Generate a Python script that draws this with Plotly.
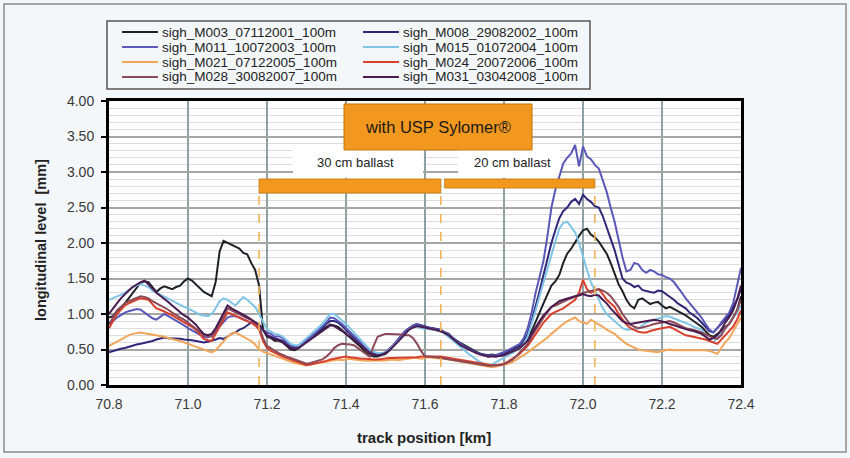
import plotly.graph_objects as go

# ---------------------------------------------------------------- data
km = [70.80, 70.81, 70.82, 70.83, 70.84, 70.85, 70.86, 70.87, 70.88, 70.89,
      70.90, 70.91, 70.92, 70.93, 70.94, 70.95, 70.96, 70.97, 70.98, 70.99,
      71.00, 71.01, 71.02, 71.03, 71.04, 71.05, 71.06, 71.07, 71.08, 71.09,
      71.10, 71.11, 71.12, 71.13, 71.14, 71.15, 71.16, 71.17, 71.18, 71.19,
      71.20, 71.21, 71.22, 71.23, 71.24, 71.25, 71.26, 71.27, 71.28, 71.29,
      71.30, 71.31, 71.32, 71.33, 71.34, 71.35, 71.36, 71.37, 71.38, 71.39,
      71.40, 71.41, 71.42, 71.43, 71.44, 71.45, 71.46, 71.47, 71.48, 71.49,
      71.50, 71.51, 71.52, 71.53, 71.54, 71.55, 71.56, 71.57, 71.58, 71.59,
      71.60, 71.61, 71.62, 71.63, 71.64, 71.65, 71.66, 71.67, 71.68, 71.69,
      71.70, 71.71, 71.72, 71.73, 71.74, 71.75, 71.76, 71.77, 71.78, 71.79,
      71.80, 71.81, 71.82, 71.83, 71.84, 71.85, 71.86, 71.87, 71.88, 71.89,
      71.90, 71.91, 71.92, 71.93, 71.94, 71.95, 71.96, 71.97, 71.98, 71.99,
      72.00, 72.01, 72.02, 72.03, 72.04, 72.05, 72.06, 72.07, 72.08, 72.09,
      72.10, 72.11, 72.12, 72.13, 72.14, 72.15, 72.16, 72.17, 72.18, 72.19,
      72.20, 72.21, 72.22, 72.23, 72.24, 72.25, 72.26, 72.27, 72.28, 72.29,
      72.30, 72.31, 72.32, 72.33, 72.34, 72.35, 72.36, 72.37, 72.38, 72.39,
      72.40]

m003 = [0.95, 0.97, 1.04, 1.08, 1.15, 1.22, 1.30, 1.36, 1.44, 1.46,
        1.45, 1.38, 1.31, 1.36, 1.39, 1.37, 1.35, 1.38, 1.40, 1.46,
        1.50, 1.47, 1.42, 1.36, 1.31, 1.28, 1.25, 1.45, 1.88, 2.03,
        2.00, 1.97, 1.95, 1.92, 1.86, 1.84, 1.72, 1.62, 1.40, 0.78,
        0.68, 0.66, 0.62, 0.63, 0.60, 0.55, 0.50, 0.49, 0.52, 0.57,
        0.62, 0.66, 0.70, 0.75, 0.78, 0.82, 0.85, 0.84, 0.82, 0.77,
        0.72, 0.68, 0.62, 0.58, 0.52, 0.46, 0.42, 0.40, 0.40, 0.42,
        0.44, 0.49, 0.55, 0.62, 0.68, 0.75, 0.80, 0.83, 0.84, 0.81,
        0.82, 0.79, 0.80, 0.77, 0.76, 0.74, 0.72, 0.66, 0.62, 0.59,
        0.56, 0.52, 0.50, 0.46, 0.44, 0.43, 0.42, 0.43, 0.42, 0.44,
        0.45, 0.47, 0.50, 0.52, 0.55, 0.58, 0.65, 0.76, 0.90, 1.02,
        1.15, 1.28, 1.40, 1.46, 1.55, 1.72, 1.85, 1.92, 2.02, 2.10,
        2.18, 2.20, 2.12, 2.08, 2.02, 1.94, 1.85, 1.72, 1.58, 1.42,
        1.32, 1.20, 1.12, 1.08, 1.20, 1.22, 1.18, 1.14, 1.16, 1.17,
        1.12, 1.08, 1.10, 1.07, 1.05, 1.01, 0.98, 0.94, 0.90, 0.86,
        0.82, 0.76, 0.70, 0.68, 0.72, 0.76, 0.82, 0.86, 0.95, 1.05,
        1.25]

m008 = [0.46, 0.48, 0.50, 0.51, 0.52, 0.54, 0.55, 0.57, 0.58, 0.59,
        0.60, 0.62, 0.64, 0.66, 0.67, 0.66, 0.66, 0.65, 0.65, 0.64,
        0.64, 0.63, 0.62, 0.61, 0.60, 0.61, 0.62, 0.64, 0.66, 0.65,
        0.68, 0.72, 0.74, 0.78, 0.80, 0.84, 0.88, 0.86, 0.85, 0.78,
        0.70, 0.68, 0.66, 0.63, 0.62, 0.58, 0.54, 0.53, 0.55, 0.60,
        0.64, 0.68, 0.72, 0.76, 0.80, 0.86, 0.90, 0.90, 0.88, 0.83,
        0.78, 0.72, 0.66, 0.61, 0.56, 0.50, 0.46, 0.43, 0.42, 0.44,
        0.46, 0.51, 0.56, 0.63, 0.70, 0.76, 0.80, 0.84, 0.86, 0.84,
        0.83, 0.81, 0.80, 0.79, 0.78, 0.74, 0.70, 0.66, 0.62, 0.58,
        0.55, 0.51, 0.48, 0.46, 0.44, 0.42, 0.40, 0.41, 0.40, 0.42,
        0.44, 0.47, 0.50, 0.53, 0.56, 0.62, 0.72, 0.90, 1.10, 1.32,
        1.55, 1.78, 2.00, 2.18, 2.35, 2.45, 2.50, 2.58, 2.62, 2.55,
        2.68, 2.62, 2.58, 2.52, 2.50, 2.38, 2.22, 2.06, 1.90, 1.70,
        1.50, 1.44, 1.42, 1.38, 1.40, 1.34, 1.32, 1.31, 1.30, 1.33,
        1.32, 1.28, 1.25, 1.20, 1.15, 1.12, 1.08, 1.02, 0.98, 0.94,
        0.88, 0.82, 0.76, 0.74, 0.80, 0.86, 0.92, 0.98, 1.10, 1.20,
        1.35]

m011 = [0.88, 0.90, 0.95, 0.99, 1.02, 1.04, 1.05, 1.07, 1.06, 1.02,
        0.98, 0.94, 0.92, 0.96, 1.00, 0.97, 0.94, 0.91, 0.88, 0.84,
        0.80, 0.77, 0.74, 0.71, 0.68, 0.67, 0.70, 0.76, 0.82, 0.89,
        0.95, 0.97, 0.97, 0.95, 0.92, 0.90, 0.88, 0.84, 0.80, 0.77,
        0.74, 0.72, 0.68, 0.69, 0.66, 0.60, 0.56, 0.54, 0.54, 0.58,
        0.62, 0.67, 0.72, 0.77, 0.82, 0.88, 0.95, 0.94, 0.90, 0.86,
        0.80, 0.75, 0.70, 0.64, 0.58, 0.52, 0.48, 0.45, 0.43, 0.44,
        0.46, 0.51, 0.56, 0.63, 0.70, 0.75, 0.80, 0.84, 0.86, 0.83,
        0.82, 0.81, 0.80, 0.78, 0.76, 0.74, 0.72, 0.67, 0.62, 0.58,
        0.54, 0.51, 0.48, 0.46, 0.44, 0.42, 0.41, 0.42, 0.42, 0.44,
        0.46, 0.49, 0.52, 0.55, 0.58, 0.66, 0.80, 1.02, 1.30, 1.52,
        1.75, 2.10, 2.50, 2.75, 2.95, 3.12, 3.20, 3.26, 3.38, 3.08,
        3.36, 3.22, 3.18, 3.10, 3.05, 2.88, 2.72, 2.50, 2.30, 2.05,
        1.80, 1.60, 1.62, 1.72, 1.70, 1.62, 1.58, 1.62, 1.60, 1.56,
        1.55, 1.52, 1.50, 1.45, 1.38, 1.30, 1.22, 1.15, 1.08, 1.02,
        0.95, 0.86, 0.78, 0.74, 0.80, 0.88, 0.95, 1.02, 1.15, 1.40,
        1.65]

m015 = [1.20, 1.22, 1.25, 1.27, 1.30, 1.34, 1.38, 1.40, 1.42, 1.40,
        1.38, 1.33, 1.30, 1.28, 1.25, 1.21, 1.18, 1.15, 1.12, 1.10,
        1.08, 1.05, 1.02, 0.99, 0.98, 0.97, 1.00, 1.08, 1.18, 1.22,
        1.20, 1.16, 1.12, 1.18, 1.24, 1.20, 1.15, 1.10, 1.00, 0.88,
        0.78, 0.75, 0.72, 0.71, 0.68, 0.63, 0.58, 0.56, 0.56, 0.61,
        0.66, 0.71, 0.76, 0.81, 0.86, 0.93, 1.00, 1.00, 0.96, 0.91,
        0.86, 0.80, 0.74, 0.68, 0.62, 0.56, 0.50, 0.47, 0.45, 0.45,
        0.46, 0.50, 0.55, 0.60, 0.66, 0.72, 0.78, 0.81, 0.82, 0.80,
        0.80, 0.79, 0.78, 0.77, 0.76, 0.72, 0.68, 0.63, 0.58, 0.53,
        0.48, 0.44, 0.40, 0.36, 0.32, 0.30, 0.28, 0.29, 0.32, 0.35,
        0.38, 0.41, 0.45, 0.48, 0.52, 0.58, 0.68, 0.85, 1.05, 1.25,
        1.45, 1.65, 1.85, 2.02, 2.20, 2.28, 2.30, 2.22, 2.15, 2.00,
        1.80, 1.62, 1.45, 1.32, 1.20, 1.08, 1.00, 0.95, 0.90, 0.85,
        0.80, 0.78, 0.78, 0.79, 0.80, 0.84, 0.88, 0.90, 0.92, 0.94,
        0.95, 0.97, 0.96, 0.94, 0.92, 0.90, 0.88, 0.85, 0.82, 0.80,
        0.78, 0.70, 0.62, 0.60, 0.66, 0.72, 0.80, 0.86, 0.95, 1.02,
        1.12]

m021 = [0.55, 0.58, 0.62, 0.65, 0.68, 0.70, 0.72, 0.73, 0.74, 0.73,
        0.72, 0.71, 0.70, 0.70, 0.68, 0.66, 0.65, 0.64, 0.62, 0.60,
        0.58, 0.56, 0.55, 0.52, 0.50, 0.48, 0.46, 0.49, 0.55, 0.62,
        0.68, 0.72, 0.74, 0.71, 0.68, 0.66, 0.62, 0.57, 0.50, 0.47,
        0.45, 0.42, 0.40, 0.38, 0.36, 0.34, 0.32, 0.31, 0.30, 0.29,
        0.28, 0.29, 0.30, 0.31, 0.32, 0.33, 0.34, 0.35, 0.36, 0.35,
        0.36, 0.37, 0.36, 0.35, 0.35, 0.34, 0.34, 0.35, 0.35, 0.34,
        0.35, 0.36, 0.36, 0.35, 0.36, 0.37, 0.37, 0.38, 0.38, 0.37,
        0.38, 0.39, 0.38, 0.38, 0.38, 0.37, 0.36, 0.35, 0.34, 0.33,
        0.32, 0.31, 0.30, 0.28, 0.27, 0.26, 0.25, 0.25, 0.26, 0.27,
        0.28, 0.30, 0.32, 0.35, 0.38, 0.42, 0.46, 0.50, 0.55, 0.58,
        0.62, 0.67, 0.72, 0.77, 0.82, 0.86, 0.90, 0.93, 0.95, 0.90,
        0.88, 0.86, 0.92, 0.89, 0.86, 0.82, 0.78, 0.75, 0.72, 0.67,
        0.62, 0.58, 0.55, 0.52, 0.50, 0.49, 0.48, 0.47, 0.46, 0.46,
        0.48, 0.49, 0.50, 0.49, 0.49, 0.50, 0.50, 0.50, 0.50, 0.50,
        0.50, 0.49, 0.48, 0.46, 0.44, 0.52, 0.60, 0.66, 0.75, 0.84,
        0.95]

m024 = [0.80, 0.90, 1.00, 1.06, 1.12, 1.15, 1.18, 1.20, 1.22, 1.21,
        1.20, 1.14, 1.08, 1.06, 1.04, 1.01, 0.98, 0.95, 0.92, 0.88,
        0.85, 0.82, 0.78, 0.71, 0.65, 0.63, 0.62, 0.72, 0.82, 0.92,
        1.02, 1.00, 0.98, 0.95, 0.92, 0.90, 0.88, 0.84, 0.78, 0.62,
        0.52, 0.48, 0.45, 0.42, 0.40, 0.38, 0.36, 0.34, 0.32, 0.30,
        0.28, 0.29, 0.30, 0.31, 0.32, 0.34, 0.36, 0.37, 0.38, 0.39,
        0.40, 0.39, 0.38, 0.38, 0.37, 0.37, 0.36, 0.36, 0.36, 0.37,
        0.37, 0.38, 0.38, 0.38, 0.38, 0.38, 0.38, 0.39, 0.39, 0.40,
        0.40, 0.40, 0.40, 0.41, 0.40, 0.39, 0.38, 0.37, 0.36, 0.35,
        0.34, 0.33, 0.32, 0.31, 0.30, 0.29, 0.28, 0.28, 0.28, 0.29,
        0.30, 0.33, 0.36, 0.40, 0.44, 0.49, 0.55, 0.63, 0.72, 0.80,
        0.88, 0.94, 1.00, 1.03, 1.05, 1.08, 1.12, 1.16, 1.20, 1.30,
        1.48, 1.35, 1.30, 1.33, 1.35, 1.28, 1.20, 1.15, 1.10, 1.00,
        0.92, 0.85, 0.80, 0.77, 0.75, 0.74, 0.74, 0.76, 0.78, 0.79,
        0.80, 0.81, 0.82, 0.79, 0.76, 0.73, 0.70, 0.69, 0.68, 0.67,
        0.66, 0.64, 0.62, 0.60, 0.58, 0.64, 0.70, 0.76, 0.82, 0.92,
        1.05]

m028 = [0.85, 0.96, 1.05, 1.10, 1.15, 1.18, 1.20, 1.23, 1.25, 1.24,
        1.22, 1.18, 1.15, 1.12, 1.10, 1.06, 1.02, 0.98, 0.95, 0.92,
        0.88, 0.84, 0.80, 0.75, 0.70, 0.69, 0.68, 0.76, 0.85, 0.96,
        1.08, 1.05, 1.02, 0.99, 0.96, 0.94, 0.92, 0.88, 0.82, 0.66,
        0.55, 0.51, 0.48, 0.45, 0.42, 0.40, 0.38, 0.36, 0.34, 0.32,
        0.30, 0.31, 0.33, 0.34, 0.36, 0.40, 0.45, 0.52, 0.56, 0.58,
        0.58, 0.57, 0.56, 0.52, 0.48, 0.44, 0.40, 0.55, 0.68, 0.70,
        0.72, 0.72, 0.72, 0.71, 0.71, 0.70, 0.70, 0.66, 0.58, 0.48,
        0.40, 0.40, 0.40, 0.39, 0.38, 0.37, 0.36, 0.35, 0.34, 0.33,
        0.33, 0.32, 0.31, 0.30, 0.29, 0.28, 0.27, 0.27, 0.27, 0.28,
        0.29, 0.32, 0.35, 0.40, 0.46, 0.52, 0.58, 0.68, 0.78, 0.86,
        0.95, 1.03, 1.10, 1.12, 1.15, 1.18, 1.20, 1.22, 1.25, 1.27,
        1.30, 1.31, 1.32, 1.34, 1.35, 1.33, 1.30, 1.25, 1.18, 1.10,
        1.00, 0.92, 0.85, 0.82, 0.80, 0.81, 0.82, 0.84, 0.86, 0.87,
        0.88, 0.89, 0.90, 0.88, 0.85, 0.82, 0.80, 0.79, 0.78, 0.76,
        0.74, 0.71, 0.68, 0.66, 0.65, 0.70, 0.80, 0.86, 0.95, 1.05,
        1.20]

m031 = [1.00, 1.08, 1.15, 1.22, 1.28, 1.33, 1.38, 1.42, 1.45, 1.47,
        1.42, 1.36, 1.30, 1.26, 1.22, 1.17, 1.12, 1.07, 1.02, 0.98,
        0.95, 0.90, 0.85, 0.78, 0.72, 0.70, 0.72, 0.80, 0.90, 1.02,
        1.12, 1.08, 1.05, 1.02, 1.00, 0.96, 0.92, 0.89, 0.85, 0.78,
        0.70, 0.67, 0.64, 0.62, 0.60, 0.56, 0.52, 0.51, 0.52, 0.56,
        0.60, 0.64, 0.68, 0.72, 0.76, 0.80, 0.84, 0.83, 0.80, 0.76,
        0.72, 0.68, 0.64, 0.60, 0.55, 0.50, 0.45, 0.43, 0.42, 0.43,
        0.45, 0.49, 0.54, 0.60, 0.66, 0.72, 0.78, 0.81, 0.83, 0.82,
        0.81, 0.80, 0.79, 0.78, 0.76, 0.73, 0.70, 0.65, 0.60, 0.56,
        0.53, 0.50, 0.47, 0.45, 0.43, 0.41, 0.40, 0.40, 0.40, 0.41,
        0.42, 0.44, 0.46, 0.49, 0.52, 0.57, 0.62, 0.72, 0.82, 0.90,
        0.98, 1.04, 1.10, 1.14, 1.18, 1.20, 1.22, 1.24, 1.25, 1.26,
        1.28, 1.26, 1.25, 1.27, 1.26, 1.20, 1.15, 1.08, 1.02, 0.96,
        0.90, 0.87, 0.86, 0.87, 0.88, 0.89, 0.90, 0.91, 0.92, 0.91,
        0.90, 0.88, 0.86, 0.84, 0.82, 0.80, 0.78, 0.77, 0.76, 0.74,
        0.72, 0.68, 0.64, 0.66, 0.70, 0.78, 0.88, 0.95, 1.05, 1.20,
        1.40]

series_names = ["sigh_M003_07112001_100m", "sigh_M008_29082002_100m",
                "sigh_M011_10072003_100m", "sigh_M015_01072004_100m",
                "sigh_M021_07122005_100m", "sigh_M024_20072006_100m",
                "sigh_M028_30082007_100m", "sigh_M031_03042008_100m"]
series_values = [m003, m008, m011, m015, m021, m024, m028, m031]
series_colors = ["#1e2228", "#2f2878", "#5a58b8", "#80c4e6",
                 "#f2a65a", "#d8402c", "#8c4a58", "#4a1c50"]

x_ticks = [70.8, 71.0, 71.2, 71.4, 71.6, 71.8, 72.0, 72.2, 72.4]
y_ticks = [0.0, 0.5, 1.0, 1.5, 2.0, 2.5, 3.0, 3.5, 4.0]

section_edges = [71.18, 71.64, 72.03]

# ---------------------------------------------------------------- layout helpers
W, H = 850, 458
PL, PR, PT, PB = 109, 741, 101, 385   # plot area in pixels
FONT = "Liberation Sans, Arial, sans-serif"


def px(x):
    return (x - PL) / (PR - PL)


def py(y):
    return (PB - y) / (PB - PT)


fig = go.Figure()

for name, vals, col in zip(series_names, series_values, series_colors):
    fig.add_trace(go.Scatter(x=km, y=vals, mode="lines", name=name,
                             line=dict(color=col, width=2),
                             showlegend=False))

shapes = []
annotations = []

# outer frame of the figure
shapes.append(dict(type="rect", xref="paper", yref="paper",
                   x0=px(4), x1=px(846), y0=py(452), y1=py(4),
                   line=dict(color="#8c8c8c", width=1.5),
                   fillcolor="rgba(0,0,0,0)", layer="below"))

# legend box
shapes.append(dict(type="rect", xref="paper", yref="paper",
                   x0=px(107), x1=px(590), y0=py(89), y1=py(21),
                   line=dict(color="#555555", width=1.5),
                   fillcolor="rgba(0,0,0,0)", layer="above"))
for i, (name, col) in enumerate(zip(series_names, series_colors)):
    c, r = i % 2, i // 2
    ly = 32 + r * 15
    lx = 122 + c * 241
    shapes.append(dict(type="line", xref="paper", yref="paper",
                       x0=px(lx), x1=px(lx + 36), y0=py(ly), y1=py(ly),
                       line=dict(color=col, width=2)))
    annotations.append(dict(xref="paper", yref="paper", x=px(lx + 38), y=py(ly),
                            xanchor="left", yanchor="middle", showarrow=False,
                            text=name, font=dict(family=FONT, size=13.5, color="#222222")))

# white label backgrounds for the ballast captions
for x0, x1 in [(71.266, 71.595), (71.684, 71.942)]:
    shapes.append(dict(type="rect", xref="x", yref="y", x0=x0, x1=x1,
                       y0=2.92, y1=3.31, fillcolor="white",
                       line=dict(width=0), layer="between"))

# "with USP Sylomer" box
shapes.append(dict(type="rect", xref="x", yref="y", x0=71.395, x1=71.871,
                   y0=3.31, y1=3.958, fillcolor="#f2981f",
                   line=dict(color="#c27512", width=1), layer="above"))
annotations.append(dict(xref="x", yref="y", x=71.633, y=3.635, showarrow=False,
                        xanchor="center", yanchor="middle",
                        text="with USP Sylomer®",
                        font=dict(family=FONT, size=16.5, color="#1a1a1a")))

# ballast sections
shapes.append(dict(type="rect", xref="x", yref="y", x0=71.18, x1=71.64,
                   y0=2.704, y1=2.901, fillcolor="#f2981f",
                   line=dict(color="#c98017", width=1), layer="above"))
shapes.append(dict(type="rect", xref="x", yref="y", x0=71.65, x1=72.03,
                   y0=2.775, y1=2.901, fillcolor="#f2981f",
                   line=dict(color="#c98017", width=1), layer="above"))
annotations.append(dict(xref="x", yref="y", x=71.423, y=3.13, showarrow=False,
                        xanchor="center", yanchor="middle",
                        text="30 cm ballast",
                        font=dict(family=FONT, size=13, color="#222222")))
annotations.append(dict(xref="x", yref="y", x=71.821, y=3.13, showarrow=False,
                        xanchor="center", yanchor="middle",
                        text="20 cm ballast",
                        font=dict(family=FONT, size=13, color="#222222")))

# section boundaries
for xe, ytop in zip(section_edges, [2.704, 2.704, 2.775]):
    shapes.append(dict(type="line", xref="x", yref="y", x0=xe, x1=xe,
                       y0=0, y1=ytop,
                       line=dict(color="#efb45a", width=1.6, dash="dash"),
                       layer="above"))

# axis titles
annotations.append(dict(xref="paper", yref="paper", x=px(424), y=py(437),
                        xanchor="center", yanchor="middle",
                        showarrow=False, text="<b>track position [km]</b>",
                        font=dict(family=FONT, size=15, color="#222222")))
annotations.append(dict(xref="paper", yref="paper", x=px(41), y=py(240),
                        xanchor="center", yanchor="middle",
                        showarrow=False, textangle=-90,
                        text="<b>longitudinal level  [mm]</b>",
                        font=dict(family=FONT, size=14.5, color="#222222")))

fig.update_layout(
    width=W, height=H,
    margin=dict(l=PL, r=W - PR, t=PT, b=H - PB, pad=0),
    paper_bgcolor="#f4f7f9",
    plot_bgcolor="white",
    shapes=shapes,
    annotations=annotations,
    showlegend=False,
    font=dict(family=FONT, size=14, color="#3a3a3a"),
)

fig.update_xaxes(
    range=[70.8, 72.4], tickvals=x_ticks,
    ticktext=[f"{v:.1f}" for v in x_ticks],
    showgrid=True, gridcolor="#8ea2a5", gridwidth=2,
    showline=True, linecolor="black", linewidth=3, mirror=True,
    ticks="", zeroline=False, ticklabelstandoff=4,
    tickfont=dict(family=FONT, size=14, color="#3a3a3a"),
)
fig.update_yaxes(
    range=[0, 4], tickvals=y_ticks,
    ticktext=[f"{v:.2f}" for v in y_ticks],
    showgrid=True, gridcolor="#a6a6a6", gridwidth=2,
    minor=dict(dtick=0.1, tick0=0, showgrid=True, gridcolor="#dddddd", gridwidth=1, ticks=""),
    showline=True, linecolor="black", linewidth=3, mirror=True,
    ticks="outside", ticklen=5, tickwidth=2, tickcolor="black",
    ticklabelstandoff=4, zeroline=False,
    tickfont=dict(family=FONT, size=14, color="#3a3a3a"),
)

fig.write_html("out.html")
